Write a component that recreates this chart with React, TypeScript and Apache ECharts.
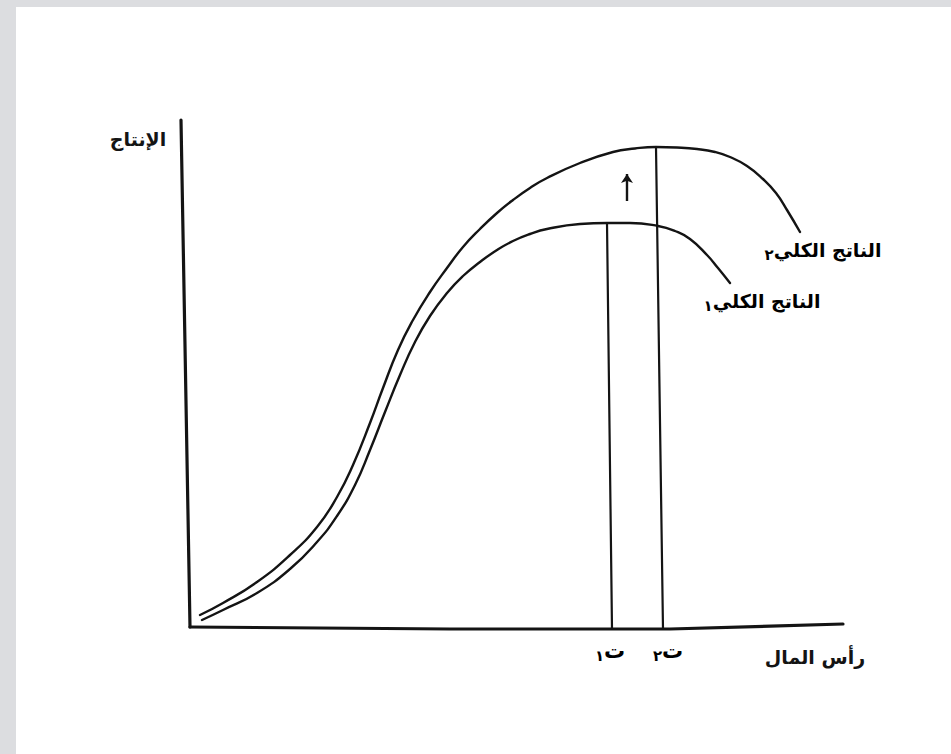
import React, { useEffect, useRef } from "react";
import * as echarts from "echarts";

// Total product curve after capital increase (الناتج الكلي٢) — [capital, output]
const tp2Points: [number, number][] = [
  [30, 15], [53, 27], [87, 48], [120, 75], [147, 103], [167, 133], [183, 165],
  [200, 207], [213, 242], [228, 280], [243, 310], [260, 338], [277, 362],
  [293, 383], [310, 401], [327, 417], [343, 430], [360, 442], [377, 452],
  [410, 467], [443, 478], [465, 481.5], [486, 483], [507, 482.5], [527, 481],
  [545, 478], [560, 473], [577, 464], [593, 451], [606, 437], [617, 420], [630, 398],
];

// Total product curve before (الناتج الكلي١)
const tp1Points: [number, number][] = [
  [32, 10], [53, 20], [87, 37], [120, 61], [147, 88], [167, 114], [185, 145],
  [200, 180], [215, 218], [230, 255], [245, 288], [260, 314], [277, 337],
  [293, 354], [310, 368], [327, 380], [343, 389], [360, 396], [377, 401],
  [410, 406], [437, 407], [460, 407], [488, 404], [505, 399], [520, 391],
  [537, 375], [548, 362], [560, 347],
];

// Hand-drawn axes
const yAxisLine: [number, number][] = [[11, 510], [20, 3]];
const xAxisLine: [number, number][] = [[20, 3], [280, 1], [500, 1], [673, 6]];

// Vertical lines at capital levels t1 and t2
const t1Line: [number, number][] = [[437, 407], [442, 1]];
const t2Line: [number, number][] = [[486, 483], [493, 1]];

// Upward shift arrow
const arrowLine: [number, number][] = [[457, 429], [457, 456]];

// Texts
const yTitle = "الإنتاج";
const xTitle = "رأس المال";
const tpLabel = "الناتج الكلي";
const tLabel = "ت";
const sub1 = "١";
const sub2 = "٢";

const INK = "#141414";
const FONT = "'DejaVu Sans', sans-serif";

export default function App() {
  const ref = useRef<HTMLDivElement>(null);

  useEffect(() => {
    if (!ref.current) return;
    const chart = echarts.init(ref.current, null, { renderer: "svg" });

    const lineSeries = (data: [number, number][], width: number, smooth: number | boolean) => ({
      type: "line",
      data,
      smooth,
      symbol: "none",
      silent: true,
      lineStyle: { color: INK, width, cap: "round", join: "round" },
    });

    const rich = {
      m: { fontFamily: FONT, fontSize: 19, fontWeight: "bold", color: INK },
      t: { fontFamily: FONT, fontSize: 21, fontWeight: "bold", color: INK },
      s: { fontFamily: FONT, fontSize: 15, fontWeight: "bold", color: INK, padding: [9, 0, 0, 0] },
    };

    chart.setOption({
      animation: false,
      backgroundColor: "#ffffff",
      grid: { left: 170, top: 110, width: 700, height: 520 },
      xAxis: { type: "value", min: 0, max: 700, show: false },
      yAxis: { type: "value", min: 0, max: 520, show: false },
      series: [
        lineSeries(yAxisLine, 3.2, false),
        lineSeries(xAxisLine, 3.2, false),
        lineSeries(tp1Points, 2.4, 0.5),
        lineSeries(tp2Points, 2.4, 0.5),
        lineSeries(t1Line, 2.2, false),
        lineSeries(t2Line, 2.2, false),
        {
          type: "lines",
          coordinateSystem: "cartesian2d",
          silent: true,
          symbol: ["none", "arrow"],
          symbolSize: [0, 9],
          lineStyle: { color: INK, width: 2.4, opacity: 1 },
          data: [{ coords: arrowLine }],
        },
      ],
      graphic: [
        { type: "rect", shape: { x: 0, y: 0, width: 951, height: 7 }, style: { fill: "#dcdde0" }, silent: true },
        { type: "rect", shape: { x: 0, y: 0, width: 16, height: 754 }, style: { fill: "#dcdde0" }, silent: true },
        {
          type: "text", x: 138, y: 139,
          style: { text: yTitle, font: `bold 19px ${FONT}`, fill: INK, align: "center", verticalAlign: "middle" },
        },
        {
          type: "text", x: 815, y: 657,
          style: { text: xTitle, font: `bold 19px ${FONT}`, fill: INK, align: "center", verticalAlign: "middle" },
        },
        {
          type: "text", x: 823, y: 250,
          style: { text: `{s|${sub2}}{m|${tpLabel}}`, rich, align: "center", verticalAlign: "middle" },
        },
        {
          type: "text", x: 762, y: 301,
          style: { text: `{s|${sub1}}{m|${tpLabel}}`, rich, align: "center", verticalAlign: "middle" },
        },
        {
          type: "text", x: 610, y: 651,
          style: { text: `{s|${sub1}}{t|${tLabel}}`, rich, align: "center", verticalAlign: "middle" },
        },
        {
          type: "text", x: 668, y: 651,
          style: { text: `{s|${sub2}}{t|${tLabel}}`, rich, align: "center", verticalAlign: "middle" },
        },
      ],
    });

    return () => chart.dispose();
  }, []);

  return (
    <div
      ref={ref}
      style={{ position: "absolute", left: 0, top: 0, width: 951, height: 754 }}
    />
  );
}
